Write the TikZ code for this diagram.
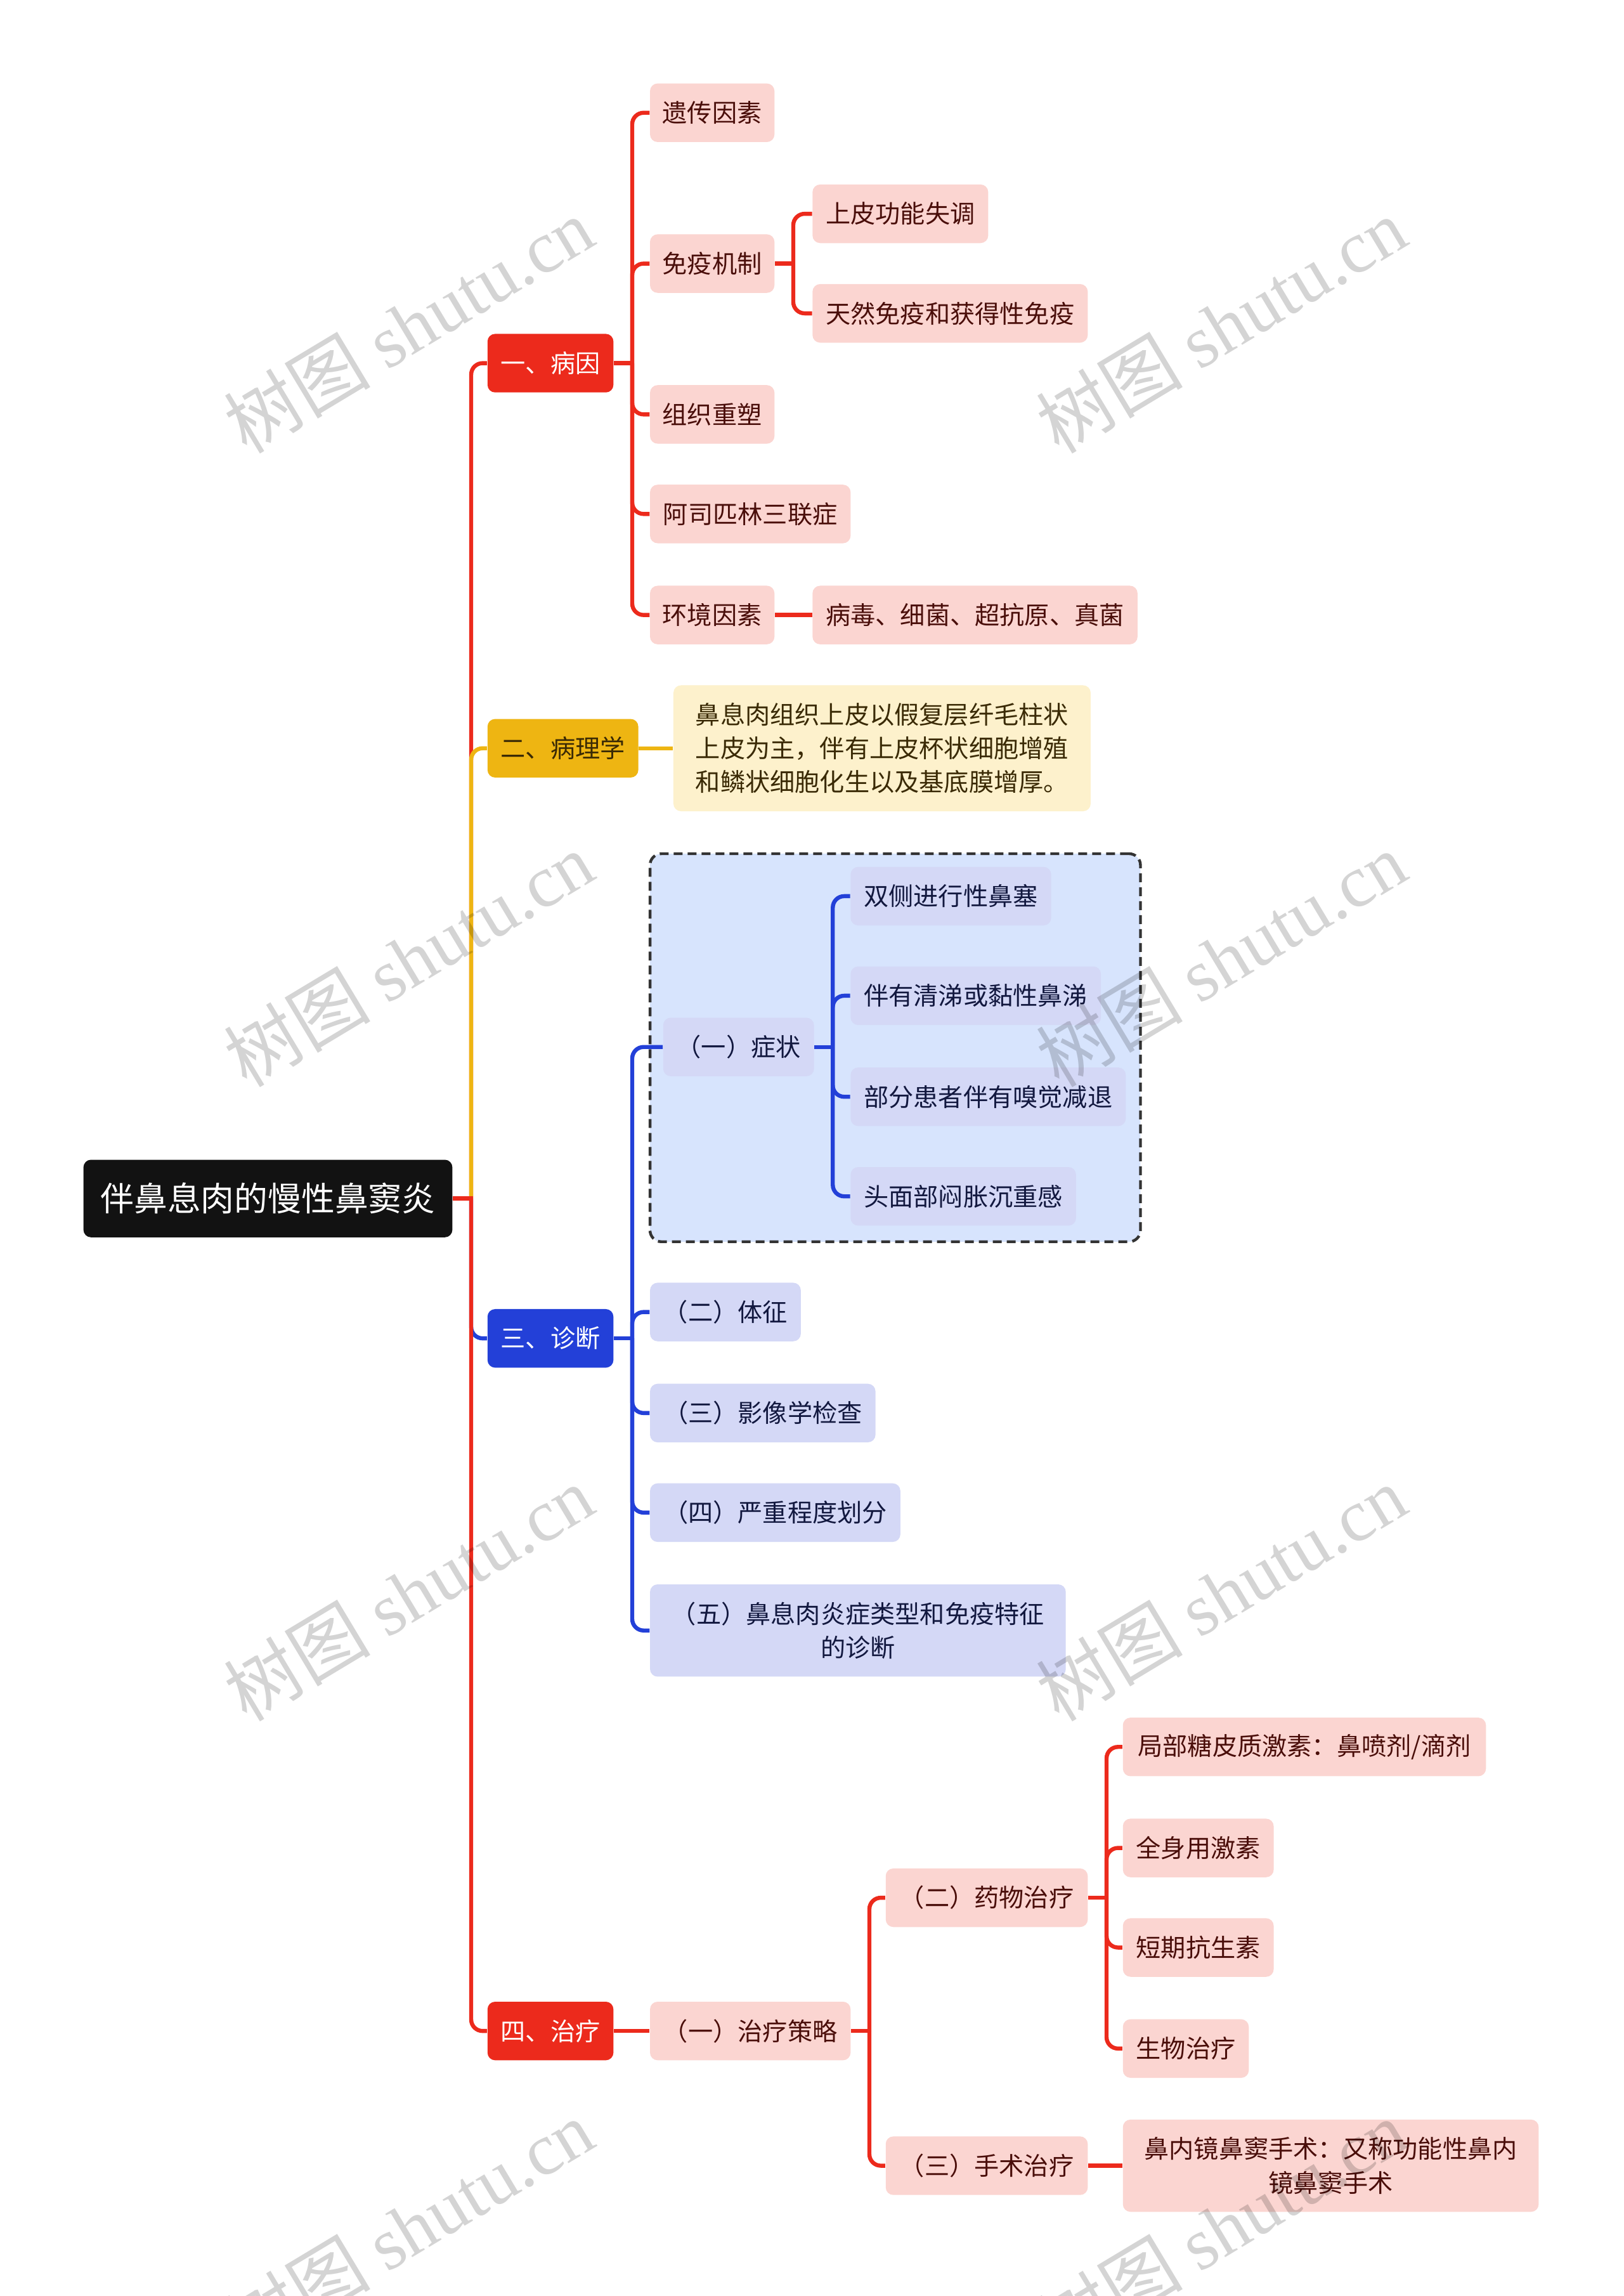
\documentclass[tikz,border=0pt]{standalone}
\usepackage{fontspec}
\setmainfont{Noto Sans CJK SC}
\newfontfamily\wmlatin{Liberation Serif}
\usetikzlibrary{calc}
\newlength\pxu \setlength\pxu{0.5771pt}
\definecolor{cred}{HTML}{EC2A1C}
\definecolor{cpink}{HTML}{FBD5D1}
\definecolor{credtxt}{HTML}{4A0E0A}
\definecolor{cyel}{HTML}{EEB512}
\definecolor{cpyel}{HTML}{FDF1CC}
\definecolor{cyeltxt}{HTML}{3A2A05}
\definecolor{cblue}{HTML}{2340D8}
\definecolor{clav}{HTML}{D4D8F6}
\definecolor{cbluetxt}{HTML}{12183F}
\definecolor{cboxbg}{HTML}{D7E4FD}
\tikzset{
  nbox/.style={rounded corners=3pt, inner sep=0pt, align=center, font=\fontsize{9.8}{13.3}\selectfont},
  rootbox/.style={nbox, fill=black!93, text=white, font=\fontsize{13.2}{16}\selectfont},
  redone/.style={nbox, fill=cred, text=white},
  yelone/.style={nbox, fill=cyel, text=cyeltxt},
  blueone/.style={nbox, fill=cblue, text=white},
  redtwo/.style={nbox, fill=cpink, text=credtxt},
  yeltwo/.style={nbox, fill=cpyel, text=cyeltxt},
  bluetwo/.style={nbox, fill=clav, text=cbluetxt},
  wmark/.style={rotate=31, text=black, text opacity=0.17, inner sep=0pt, font=\fontsize{29}{29}\selectfont},
  cline/.style={line width=1.6pt, line cap=butt}
}
\newcommand\mnode[6]{\node[#1, minimum width=#2\pxu, minimum height=#3\pxu] (#4) at (#5) {#6};}
\newcommand\conn[3]{%
  \draw[cline,#1] (#2.east) -- ([xshift=12.5\pxu+0.8pt]#2.east);
  \draw[cline,#1,rounded corners=4.5pt] ([xshift=12.5\pxu]#2.east) |- (#3.west);}
\newcommand\sconn[3]{\draw[cline,#1] (#2.east) -- (#3.west);}
\begin{document}
\begin{tikzpicture}[x=\pxu,y=-\pxu]
\useasboundingbox[fill=white] (0,0) rectangle (1109,1568);
% dashed group box
\node[draw=black!80, dashed, dash pattern=on 3.5pt off 2pt, line width=1.1pt, fill=cboxbg, rounded corners=4.5pt, minimum width=335\pxu, minimum height=265\pxu, inner sep=0pt] (grp) at (611.5,715.5) {};
% root and level 1
\mnode{rootbox}{252}{53}{root}{183,818.5}{伴鼻息肉的慢性鼻窦炎}
\mnode{redone}{86}{40}{b1}{376,248}{一、病因}
\mnode{yelone}{103}{40}{b2}{384.5,511}{二、病理学}
\mnode{blueone}{86}{40}{b3}{376,914}{三、诊断}
\mnode{redone}{86}{40}{b4}{376,1387}{四、治疗}
% branch 1
\mnode{redtwo}{85}{40}{c11}{486.5,77}{遗传因素}
\mnode{redtwo}{85}{40}{c12}{486.5,180}{免疫机制}
\mnode{redtwo}{120}{40}{d121}{615,146}{上皮功能失调}
\mnode{redtwo}{188}{40}{d122}{649,214}{天然免疫和获得性免疫}
\mnode{redtwo}{85}{40}{c13}{486.5,283}{组织重塑}
\mnode{redtwo}{137}{40}{c14}{512.5,351}{阿司匹林三联症}
\mnode{redtwo}{85}{40}{c15}{486.5,420}{环境因素}
\mnode{redtwo}{222}{40}{d151}{666,420}{病毒、细菌、超抗原、真菌}
% branch 2
\mnode{yeltwo}{285}{86}{c21}{602.5,511}{鼻息肉组织上皮以假复层纤毛柱状\\上皮为主，伴有上皮杯状细胞增殖\\和鳞状细胞化生以及基底膜增厚。}
% branch 3
\mnode{bluetwo}{103}{40}{c31}{504.5,715}{（一）症状}
\mnode{bluetwo}{137}{40}{d311}{649.5,612}{双侧进行性鼻塞}
\mnode{bluetwo}{171}{40}{d312}{666.5,680}{伴有清涕或黏性鼻涕}
\mnode{bluetwo}{188}{40}{d313}{675,749}{部分患者伴有嗅觉减退}
\mnode{bluetwo}{154}{40}{d314}{658,817}{头面部闷胀沉重感}
\mnode{bluetwo}{103}{40}{c32}{495.5,896}{（二）体征}
\mnode{bluetwo}{154}{40}{c33}{521,965}{（三）影像学检查}
\mnode{bluetwo}{171}{40}{c34}{529.5,1033}{（四）严重程度划分}
\mnode{bluetwo}{284}{63}{c35}{586,1113.5}{（五）鼻息肉炎症类型和免疫特征\\的诊断}
% branch 4
\mnode{redtwo}{137}{40}{c41}{512.5,1387}{（一）治疗策略}
\mnode{redtwo}{138}{40}{d411}{674,1296}{（二）药物治疗}
\mnode{redtwo}{248}{40}{e1}{891,1193}{局部糖皮质激素：鼻喷剂/滴剂}
\mnode{redtwo}{103}{40}{e2}{818.5,1262}{全身用激素}
\mnode{redtwo}{103}{40}{e3}{818.5,1330}{短期抗生素}
\mnode{redtwo}{86}{40}{e4}{810,1399}{生物治疗}
\mnode{redtwo}{138}{40}{d412}{674,1479}{（三）手术治疗}
\mnode{redtwo}{284}{63}{e5}{909,1479}{鼻内镜鼻窦手术：又称功能性鼻内\\镜鼻窦手术}
% connectors
\conn{cred}{root}{b1}
\conn{cyel}{root}{b2}
\conn{cblue}{root}{b3}
\conn{cred}{root}{b4}
\foreach \c in {c11,c12,c13,c14,c15} {\conn{cred}{b1}{\c}}
\conn{cred}{c12}{d121}
\conn{cred}{c12}{d122}
\sconn{cred}{c15}{d151}
\sconn{cyel}{b2}{c21}
\foreach \c in {c31,c32,c33,c34,c35} {\conn{cblue}{b3}{\c}}
\foreach \c in {d311,d312,d313,d314} {\conn{cblue}{c31}{\c}}
\sconn{cred}{b4}{c41}
\conn{cred}{c41}{d411}
\conn{cred}{c41}{d412}
\foreach \c in {e1,e2,e3,e4} {\conn{cred}{d411}{\c}}
\sconn{cred}{d412}{e5}
% watermarks
\node[wmark] (w1) at (279,222) {树图 {\wmlatin shutu.cn}};
\node[wmark] (w2) at (834,222) {树图 {\wmlatin shutu.cn}};
\node[wmark] (w3) at (279,655) {树图 {\wmlatin shutu.cn}};
\node[wmark] (w4) at (834,655) {树图 {\wmlatin shutu.cn}};
\node[wmark] (w5) at (279,1088) {树图 {\wmlatin shutu.cn}};
\node[wmark] (w6) at (834,1088) {树图 {\wmlatin shutu.cn}};
\node[wmark] (w7) at (279,1521) {树图 {\wmlatin shutu.cn}};
\node[wmark] (w8) at (834,1521) {树图 {\wmlatin shutu.cn}};
\end{tikzpicture}
\end{document}
